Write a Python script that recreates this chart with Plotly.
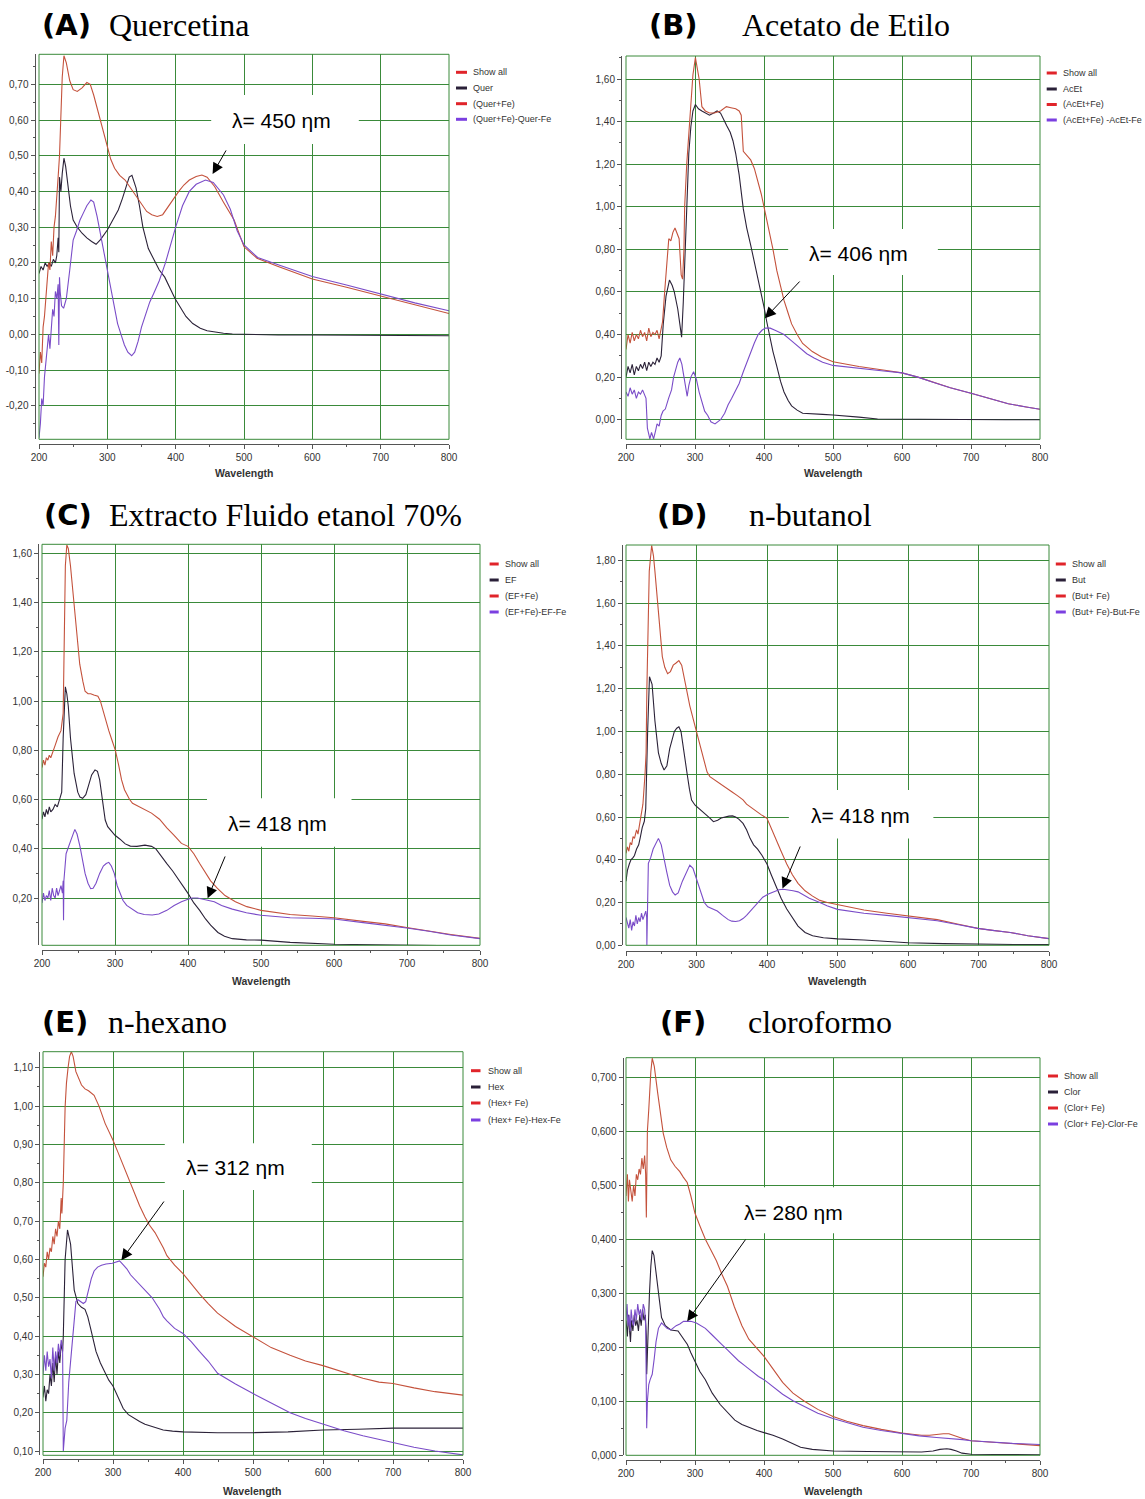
import plotly.graph_objects as go

W, H = 1145, 1499

# ---------------- Panel A : Quercetina ----------------
A_black_wl = [200,203,206,209,212,215,218,221,224,226,228,229,230,232,234,236.5,239,242,246,250,256,263,270,277,283.5,290,300,308,316,322,328,332,336,342,347,352,360,368,376,384,392,399,407,415,425,436,446,457,470,483,500,550,600,650,700,750,800]
A_black = [0.17,0.19,0.18,0.20,0.19,0.20,0.19,0.21,0.20,0.22,0.27,0.23,0.44,0.40,0.45,0.493,0.47,0.42,0.36,0.32,0.30,0.283,0.27,0.26,0.252,0.265,0.292,0.32,0.348,0.38,0.42,0.44,0.445,0.41,0.36,0.30,0.24,0.208,0.18,0.16,0.13,0.10,0.075,0.05,0.03,0.017,0.01,0.006,0.003,0.001,0.0,-0.002,-0.002,-0.003,-0.003,-0.004,-0.004]
A_red_wl = [200,202,204,206,208,210,212,214,216,218,220,222,224,226,228,230,232,234,236.5,240,245,250,256,263,270,275,280,284.5,290,295,300,305,310.6,318,326,334,342,350,357.6,365,373,381,389,397,404.5,412,420,430,438.4,446,457,470,485.5,500,519,550,600,650,700,750,800]
A_red = [-0.11,-0.05,-0.08,0.02,0.05,0.10,0.14,0.20,0.18,0.26,0.22,0.30,0.33,0.40,0.44,0.50,0.62,0.72,0.78,0.76,0.71,0.685,0.68,0.69,0.705,0.70,0.67,0.638,0.60,0.56,0.526,0.49,0.465,0.445,0.432,0.41,0.386,0.365,0.344,0.335,0.33,0.335,0.358,0.38,0.40,0.418,0.432,0.442,0.446,0.44,0.414,0.37,0.32,0.245,0.213,0.19,0.155,0.132,0.108,0.083,0.058]
A_purple_wl = [200,202,204,206,208,210,212,214,216,218,220,222,224,226,228,229,230,231,233,236,240,245,250,255,260,265,270,276,280,285,290,295,300,305,310,315,320,325,330,335.6,340,345,350,355,362,368,376,385,392,400,410,420,430,443.6,455,470,480,490,500,520,550,600,650,700,750,800]
A_purple = [-0.29,-0.25,-0.18,-0.20,-0.12,-0.08,-0.05,0.0,-0.04,0.01,0.07,0.05,0.12,0.10,0.14,-0.03,0.16,0.12,0.08,0.073,0.10,0.18,0.264,0.29,0.32,0.34,0.36,0.376,0.37,0.33,0.28,0.24,0.19,0.14,0.08,0.03,0.0,-0.03,-0.05,-0.06,-0.05,-0.02,0.02,0.05,0.09,0.115,0.15,0.20,0.25,0.30,0.36,0.40,0.42,0.432,0.425,0.39,0.35,0.29,0.25,0.215,0.195,0.162,0.138,0.112,0.088,0.066]
A_legend = ["Show all", "Quer", "(Quer+Fe)", "(Quer+Fe)-Quer-Fe"]
A_yticks = [-0.2,-0.1,0.0,0.1,0.2,0.3,0.4,0.5,0.6,0.7]
A_ylabels = ["-0,20","-0,10","0,00","0,10","0,20","0,30","0,40","0,50","0,60","0,70"]
A_yminor = [-0.25,-0.15,-0.05,0.05,0.15,0.25,0.35,0.45,0.55,0.65,0.75]

# ---------------- Panel B : Acetato de Etilo ----------------
B_black_wl = [200,203,206,209,212,215,218,221,224,227,230,233,236,239,242,245,248,251,254,258,263,267,270,275,278,280.6,283,286,288.7,291,294,297,300.6,305,310,315,321,327,332,337,341,346,351,355,359,364,370,375,380.7,386,391.5,396,400,404,407.7,413,418.6,424,429,435,440,448,456,470,485,500,520,537.6,564.6,600,650,700,750,800]
B_black = [0.20,0.25,0.22,0.26,0.21,0.25,0.23,0.26,0.24,0.27,0.23,0.27,0.25,0.27,0.26,0.29,0.27,0.30,0.45,0.58,0.656,0.63,0.60,0.52,0.45,0.387,0.55,0.85,1.10,1.25,1.376,1.45,1.48,1.46,1.45,1.44,1.43,1.44,1.45,1.44,1.41,1.38,1.35,1.31,1.25,1.15,0.99,0.90,0.82,0.74,0.67,0.60,0.53,0.46,0.40,0.32,0.25,0.18,0.13,0.09,0.065,0.045,0.03,0.026,0.025,0.022,0.015,0.012,0.003,0.002,0.001,0.001,0.0,0.0]
B_red_wl = [200,203,206,209,212,215,218,221,224,227,230,233,236,239,242,245,248,251,253,256,259,262,265,268,271,274,277,280,282,284,285,288,291,294,297,300.6,303,306,310,315,321,328,337,345.5,352,359,364,367,370,375,380.7,386,391.5,396,400,404,407.7,413,418.6,424,429,435,440,448,456,470,483.5,500,520,537.6,570,600,623,646,670,700,730,754,780,800]
B_red = [0.33,0.40,0.36,0.41,0.37,0.40,0.38,0.42,0.39,0.41,0.37,0.43,0.39,0.41,0.40,0.42,0.38,0.42,0.46,0.60,0.72,0.85,0.84,0.88,0.90,0.87,0.85,0.68,0.66,0.80,1.0,1.2,1.35,1.5,1.62,1.70,1.66,1.60,1.47,1.45,1.44,1.44,1.45,1.47,1.465,1.46,1.45,1.43,1.26,1.24,1.22,1.18,1.118,1.06,1.0,0.94,0.88,0.80,0.70,0.62,0.56,0.50,0.45,0.40,0.358,0.32,0.295,0.272,0.26,0.25,0.235,0.22,0.20,0.175,0.15,0.124,0.098,0.075,0.06,0.049]
B_purple_wl = [200,203,206,209,212,215,218,221,224,227,229,231,234.6,237,240,243,245,248,251,253.6,257,261.7,266,269,272.5,275,278,281,283,286,288.7,291,294,298,302,306,310,314,318.5,323,329,337,343,348,353,359,364,370,375,380.7,386,391.5,397,402,409,416,423,429,440,451,462,472.6,485,500,520,537.6,570,600,623,646,670,700,730,754,780,800]
B_purple = [0.13,0.11,0.15,0.12,0.14,0.10,0.13,0.12,0.14,0.11,0.10,-0.04,-0.09,-0.06,-0.09,-0.05,-0.02,-0.03,0.02,0.04,0.05,0.10,0.14,0.20,0.25,0.27,0.29,0.26,0.22,0.15,0.11,0.16,0.20,0.225,0.19,0.13,0.08,0.04,0.02,-0.01,-0.02,0.0,0.03,0.07,0.10,0.14,0.17,0.225,0.27,0.32,0.36,0.40,0.42,0.43,0.43,0.42,0.41,0.40,0.37,0.34,0.31,0.29,0.27,0.255,0.247,0.24,0.23,0.22,0.20,0.175,0.15,0.124,0.098,0.075,0.06,0.049]
B_legend = ["Show all", "AcEt", "(AcEt+Fe)", "(AcEt+Fe) -AcEt-Fe"]
B_yticks = [0.0,0.2,0.4,0.6,0.8,1.0,1.2,1.4,1.6]
B_ylabels = ["0,00","0,20","0,40","0,60","0,80","1,00","1,20","1,40","1,60"]
B_yminor = [0.1,0.3,0.5,0.7,0.9,1.1,1.3,1.5,1.7]

# ---------------- Panel C : Extracto Fluido etanol 70% ----------------
C_black_wl = [200,202,204,206,208,210,212,215,218,221,224,227,229,231,232,234,236,239,241.5,244,249,252,255.7,260,264,268,272.6,276,279,283,286.6,290,294,300,306.5,314,321,330,341,350,356,363,371,379,386,393,400,408,416,424,431,441,450,460.7,480,500,540,600,650,690,750,800]
C_black = [0.52,0.55,0.53,0.56,0.54,0.57,0.55,0.56,0.58,0.57,0.60,0.63,0.85,1.00,1.058,1.03,0.98,0.85,0.76,0.706,0.63,0.61,0.605,0.62,0.66,0.70,0.72,0.715,0.68,0.60,0.517,0.49,0.476,0.455,0.44,0.42,0.411,0.41,0.415,0.41,0.40,0.37,0.34,0.31,0.28,0.25,0.219,0.18,0.15,0.115,0.09,0.06,0.045,0.035,0.03,0.029,0.02,0.012,0.01,0.008,0.006,0.005]
C_red_wl = [200,202,204,206,208,210,212,215,218,222,226,229,231,232,234,236,239,242,246.8,251.7,256,259,263,266.7,271,276.6,280,284,288,291.5,296,300.5,305,309,313,316,320,324,330,341,350,361,366,371,381,391,400,408,416,424,431,440,450.7,465,480.6,500,520,540,570,600,640,670,699.5,730,760,800]
C_red = [0.73,0.76,0.74,0.77,0.76,0.78,0.77,0.80,0.82,0.855,0.88,0.95,1.30,1.55,1.634,1.62,1.55,1.45,1.30,1.15,1.08,1.04,1.03,1.03,1.025,1.02,1.00,0.957,0.92,0.88,0.84,0.80,0.74,0.68,0.64,0.62,0.60,0.585,0.575,0.56,0.545,0.52,0.50,0.485,0.455,0.422,0.41,0.38,0.34,0.30,0.27,0.24,0.21,0.185,0.165,0.15,0.14,0.133,0.127,0.12,0.105,0.095,0.08,0.065,0.052,0.036]
C_purple_wl = [200,202,204,206,208,210,212,214,216,218,220,222,224,226,228,229,229.5,230,233,236,239,245,248,252,255,259,263,266.7,270,274,279,284,288,291.5,295,299,303,306.5,311,316,323,331,340,351,360,371,381,391,400,406,413,421,428,436,446,460.7,480,500,520,540,570,600,640,670,699.5,730,760,800]
C_purple = [0.18,0.22,0.19,0.21,0.20,0.23,0.19,0.24,0.21,0.20,0.24,0.21,0.23,0.25,0.22,0.27,0.11,0.27,0.38,0.41,0.43,0.479,0.46,0.41,0.36,0.30,0.26,0.238,0.24,0.26,0.30,0.33,0.34,0.345,0.33,0.30,0.25,0.22,0.19,0.17,0.155,0.14,0.133,0.131,0.135,0.15,0.17,0.185,0.195,0.20,0.20,0.195,0.19,0.185,0.17,0.155,0.14,0.13,0.125,0.12,0.118,0.115,0.10,0.09,0.078,0.065,0.05,0.035]
C_legend = ["Show all", "EF", "(EF+Fe)", "(EF+Fe)-EF-Fe"]
C_yticks = [0.2,0.4,0.6,0.8,1.0,1.2,1.4,1.6]
C_ylabels = ["0,20","0,40","0,60","0,80","1,00","1,20","1,40","1,60"]
C_yminor = [0.1,0.3,0.5,0.7,0.9,1.1,1.3,1.5]

# ---------------- Panel D : n-butanol ----------------
D_black_wl = [200,202,204.7,207,210,212,215,218,220,223,226,228,230.7,233.3,237,241,246,250,254,258,262,265,268.6,272,275,278,280,283,286.8,290,293,298,303.5,309,314,319,324,330,335,340,346,351,355.5,360,366,371,376,381,386.7,393,400,406,412.7,420,428,436,444,454,464.7,480,500,537.5,570,600,650,699,750,800]
D_black = [0.30,0.35,0.38,0.40,0.41,0.42,0.45,0.47,0.50,0.55,0.58,0.64,1.00,1.256,1.22,1.05,0.90,0.85,0.82,0.84,0.92,0.96,1.00,1.015,1.022,1.00,0.95,0.88,0.80,0.73,0.679,0.655,0.64,0.625,0.61,0.595,0.578,0.585,0.595,0.60,0.604,0.605,0.60,0.59,0.57,0.54,0.50,0.47,0.45,0.42,0.38,0.33,0.28,0.22,0.17,0.13,0.09,0.06,0.045,0.035,0.03,0.025,0.018,0.012,0.008,0.005,0.004,0.003]
D_red_wl = [200,202,204,206,208,210,212,215,217,220,222,224,227,228.5,229.6,231,233,236.4,239,241,243.5,246,249,251.5,255,259,263,267,271,275,279,282.7,286,290.5,296,301,306,311,315,319,327,334.7,342,350,358,366,371,377,384,392,400,406,412.7,420,428,436,444,454,464.7,475,485.5,500,520,537.5,570,600,620,641.5,670,699,720,745,770,800]
D_red = [0.43,0.46,0.44,0.48,0.47,0.508,0.50,0.54,0.52,0.58,0.617,0.66,0.80,0.90,1.20,1.40,1.75,1.87,1.82,1.75,1.65,1.55,1.45,1.35,1.30,1.27,1.28,1.31,1.32,1.331,1.31,1.25,1.19,1.12,1.05,0.99,0.92,0.86,0.81,0.789,0.77,0.75,0.735,0.718,0.70,0.68,0.66,0.645,0.63,0.61,0.594,0.55,0.50,0.44,0.38,0.33,0.29,0.255,0.23,0.21,0.20,0.19,0.175,0.165,0.15,0.137,0.13,0.12,0.10,0.079,0.07,0.06,0.045,0.031]
D_purple_wl = [200,202,204,206,208,210,212,214,216,218,220,222,224,226,228,229.3,229.6,231.7,235,238.5,242,246,250,254,258,262,266,269.7,274,280,285,290.5,295,301,306,311,316,322,329.5,337,345,350,355.5,361,366,371,378,386.7,394,402,410,417,423,430,437,444,452,460,475,485,500,520,537.5,570,600,620,641.5,670,699,720,745,770,800]
D_purple = [0.13,0.10,0.08,0.12,0.07,0.11,0.09,0.14,0.10,0.13,0.11,0.15,0.12,0.14,0.16,0.13,0.0,0.383,0.41,0.45,0.475,0.50,0.47,0.40,0.34,0.28,0.25,0.235,0.245,0.30,0.34,0.375,0.36,0.30,0.24,0.20,0.18,0.17,0.16,0.14,0.12,0.113,0.111,0.115,0.125,0.14,0.165,0.20,0.225,0.24,0.252,0.26,0.262,0.26,0.255,0.25,0.235,0.22,0.20,0.185,0.168,0.158,0.15,0.14,0.13,0.125,0.115,0.097,0.079,0.07,0.06,0.045,0.031]
D_legend = ["Show all", "But", "(But+ Fe)", "(But+ Fe)-But-Fe"]
D_yticks = [0.0,0.2,0.4,0.6,0.8,1.0,1.2,1.4,1.6,1.8]
D_ylabels = ["0,00","0,20","0,40","0,60","0,80","1,00","1,20","1,40","1,60","1,80"]
D_yminor = [0.1,0.3,0.5,0.7,0.9,1.1,1.3,1.5,1.7]

# ---------------- Panel E : n-hexano ----------------
E_black_wl = [200,202,204,206,208,210,212,214,216,218,220,222,224,226,228,229,231.6,235,239.4,242,244.6,249.8,255,260,264,268,272,275.7,282,288.7,294,300,307,314.6,322,330,338,345.7,360,371.7,385,400,449,500,550,600,650,700,750,800]
E_black = [0.24,0.27,0.23,0.26,0.25,0.30,0.27,0.33,0.28,0.35,0.30,0.36,0.33,0.38,0.36,0.40,0.60,0.677,0.64,0.57,0.52,0.485,0.475,0.47,0.45,0.42,0.39,0.36,0.33,0.303,0.285,0.27,0.24,0.211,0.195,0.185,0.177,0.17,0.162,0.155,0.152,0.15,0.148,0.148,0.15,0.155,0.157,0.16,0.16,0.16]
E_red_wl = [200,202,204,206,208,210,212,214,216,218,220,222,224,226,227,229,231.6,233.5,235.8,238,240.5,243,247,251,255,260,265,273,280,288.7,294,300,307,314.6,322,330,338,345.7,352,360,366.5,372,377,388,400,412,423.5,436,449.4,475,500,526,553,575,600,630,657,680,700,730,760,800]
E_red = [0.555,0.59,0.58,0.62,0.60,0.63,0.62,0.66,0.64,0.68,0.66,0.70,0.68,0.76,0.72,0.80,0.998,1.06,1.10,1.13,1.142,1.13,1.09,1.07,1.055,1.045,1.04,1.028,1.0,0.955,0.935,0.911,0.88,0.846,0.81,0.775,0.74,0.711,0.69,0.67,0.65,0.63,0.61,0.585,0.563,0.535,0.51,0.485,0.46,0.425,0.398,0.37,0.35,0.335,0.323,0.305,0.29,0.28,0.2765,0.265,0.255,0.246]
E_purple_wl = [200,202,204,206,208,210,212,214,216,218,220,222,224,226,228,229,231.6,234,236.8,239,242,244.5,247,250,253,257.6,261,265,269,273,278,283.5,290,299,304,309.4,315,320,325,335,345.7,356,366.5,372,377,388,400,412,423.5,436,449.4,475,500,526,553,575,600,630,657,680,700,730,760,800]
E_purple = [0.30,0.35,0.31,0.36,0.32,0.34,0.29,0.37,0.31,0.36,0.33,0.38,0.35,0.39,0.37,0.10,0.16,0.18,0.28,0.33,0.38,0.44,0.49,0.495,0.49,0.485,0.49,0.52,0.55,0.57,0.58,0.585,0.588,0.59,0.593,0.596,0.585,0.575,0.56,0.54,0.52,0.50,0.47,0.45,0.44,0.42,0.407,0.385,0.36,0.335,0.303,0.275,0.25,0.225,0.20,0.185,0.17,0.153,0.14,0.13,0.122,0.11,0.10,0.09]
E_legend = ["Show all", "Hex", "(Hex+ Fe)", "(Hex+ Fe)-Hex-Fe"]
E_yticks = [0.1,0.2,0.3,0.4,0.5,0.6,0.7,0.8,0.9,1.0,1.1]
E_ylabels = ["0,10","0,20","0,30","0,40","0,50","0,60","0,70","0,80","0,90","1,00","1,10"]
E_yminor = [0.15,0.25,0.35,0.45,0.55,0.65,0.75,0.85,0.95,1.05]

# ---------------- Panel F : cloroformo ----------------
F_black_wl = [200,202,203.5,205,206.5,208,210,212,214,216,218,220,222,224,226,228,229.5,230,232,234,236,238,240.5,243.5,247,251.5,257,265,275.4,283.4,289,294,300,307,315,325,336.5,347,357.7,368,379,390,400,413,427,440,453,470,485,500,550,600,628.5,645,655,665,671,679,687,700,750,800]
F_black = [0.25,0.22,0.26,0.23,0.21,0.25,0.23,0.26,0.24,0.25,0.23,0.26,0.24,0.27,0.25,0.26,0.22,0.15,0.25,0.30,0.35,0.379,0.37,0.34,0.30,0.255,0.24,0.232,0.23,0.215,0.205,0.19,0.174,0.155,0.14,0.115,0.094,0.08,0.065,0.057,0.051,0.046,0.042,0.037,0.03,0.022,0.015,0.011,0.009,0.008,0.007,0.006,0.006,0.008,0.011,0.012,0.011,0.008,0.004,0.002,0.001,0.001]
F_red_wl = [200,202,203.5,205,207,209,211,213,215,217,219,221,223,225,227,228.5,229.5,231,233,234.5,236,238,241,246,250,254,259,264.8,271,278,283,288.7,294,300,307,315,323,331,339,347,357,368,378,389,400,413,427,442,458.6,478,500,520,543.5,570,600,615,628.5,640,650,660,668,676,688,700,720,740,756,780,800]
F_red = [0.48,0.52,0.47,0.51,0.49,0.47,0.50,0.48,0.52,0.51,0.53,0.52,0.55,0.53,0.555,0.52,0.44,0.60,0.64,0.68,0.71,0.735,0.72,0.67,0.63,0.596,0.57,0.547,0.535,0.525,0.515,0.505,0.48,0.448,0.425,0.40,0.38,0.36,0.335,0.313,0.275,0.24,0.215,0.198,0.183,0.16,0.135,0.115,0.10,0.085,0.072,0.063,0.055,0.048,0.041,0.039,0.037,0.037,0.039,0.04,0.04,0.036,0.031,0.027,0.025,0.023,0.022,0.02,0.018]
F_purple_wl = [200,201.5,203,204.5,206,207.5,209,211,213,215,217,219,221,223,225,227,228.5,230,231,233,235,238,241,243.5,247,251.5,255.5,259.5,265,272.7,278,283.4,289,294,302,308,315,323,331,339,347,355,363,373,384,392,400,413,427,442,458.6,478,500,520,543.5,570,600,625,650,660,668,676,688,700,730,760,800]
F_purple = [0.25,0.28,0.24,0.26,0.23,0.27,0.25,0.24,0.27,0.25,0.28,0.26,0.27,0.25,0.28,0.27,0.24,0.05,0.10,0.131,0.14,0.15,0.18,0.21,0.235,0.245,0.24,0.235,0.232,0.24,0.243,0.248,0.248,0.248,0.245,0.24,0.235,0.225,0.214,0.205,0.195,0.185,0.175,0.165,0.153,0.146,0.14,0.127,0.113,0.101,0.09,0.078,0.068,0.06,0.052,0.046,0.04,0.036,0.033,0.032,0.032,0.031,0.029,0.027,0.024,0.022,0.02]
F_legend = ["Show all", "Clor", "(Clor+ Fe)", "(Clor+ Fe)-Clor-Fe"]
F_yticks = [0.0,0.1,0.2,0.3,0.4,0.5,0.6,0.7]
F_ylabels = ["0,000","0,100","0,200","0,300","0,400","0,500","0,600","0,700"]
F_yminor = [0.05,0.15,0.25,0.35,0.45,0.55,0.65]

# shared x axis ticks
x_ticks = [200,300,400,500,600,700,800]
x_labels = ["200","300","400","500","600","700","800"]
x_minor = [250,350,450,550,650,750]

# annotation labels
peak_labels = ["λ= 450 ηm","λ= 406 ηm","λ= 418 ηm","λ= 418 ηm","λ= 312 ηm","λ= 280 ηm"]
tags = ["(A)","(B)","(C)","(D)","(E)","(F)"]
names = ["Quercetina","Acetato de Etilo","Extracto Fluido etanol 70%","n-butanol","n-hexano","cloroformo"]

# ---------------- styling / layout ----------------
RED = "#c4523c"
BLACK = "#2b2238"
PURPLE = "#7a4cc8"
LEG_RED = "#e0242a"
LEG_BLACK = "#2a2038"
LEG_PURPLE = "#7b3fe0"
GRID = "#3a8a3a"
AXC = "#555555"
SANS = "Liberation Sans, Arial, sans-serif"
SERIF = "Liberation Serif, Times New Roman, serif"

panels = [
    dict(bl=(A_black_wl, A_black), rd=(A_red_wl, A_red), pu=(A_purple_wl, A_purple), leg=A_legend,
         yt=A_yticks, yl=A_ylabels, ym=A_yminor,
         fx=(39, 449), fy=(54.3, 439.3), yline=34.5, xline=444, yr=[-0.294, 0.784],
         box=(452, 668, 0.533, 0.67), txt=(555, 0.60), arr=(475, 0.519, 454, 0.449),
         legx=(456, 467, 471), legy=(72.3, 88, 103.7, 119.3),
         tag=(40, 25), name=(107, 25), wl_y=473),
    dict(bl=(B_black_wl, B_black), rd=(B_red_wl, B_red), pu=(B_purple_wl, B_purple), leg=B_legend,
         yt=B_yticks, yl=B_ylabels, ym=B_yminor,
         fx=(626, 1040), fy=(56, 439.3), yline=621, xline=444, yr=[-0.092, 1.708],
         box=(435, 652, 0.68, 0.895), txt=(537.6, 0.781), arr=(453.7, 0.656, 401.3, 0.476),
         legx=(1046.7, 1056.8, 1061), legy=(73, 89, 104.5, 120),
         tag=(647, 25), name=(740, 25), wl_y=473),
    dict(bl=(C_black_wl, C_black), rd=(C_red_wl, C_red), pu=(C_purple_wl, C_purple), leg=C_legend,
         yt=C_yticks, yl=C_ylabels, ym=C_yminor,
         fx=(42, 480), fy=(544.3, 945.3), yline=38, xline=950, yr=[0.008, 1.637],
         box=(426, 624, 0.408, 0.605), txt=(523, 0.503), arr=(451.7, 0.375, 426.9, 0.199),
         legx=(489.6, 498.7, 503), legy=(564, 580, 596, 612),
         tag=(42, 515), name=(106.5, 515), wl_y=981),
    dict(bl=(D_black_wl, D_black), rd=(D_red_wl, D_red), pu=(D_purple_wl, D_purple), leg=D_legend,
         yt=D_yticks, yl=D_ylabels, ym=D_yminor,
         fx=(626, 1049), fy=(545, 945.3), yline=621.5, xline=951, yr=[0.0, 1.872],
         box=(431, 636, 0.50, 0.726), txt=(532.3, 0.609), arr=(448, 0.469, 422, 0.266),
         legx=(1055.8, 1065.8, 1070), legy=(564, 580, 596, 612),
         tag=(655, 515), name=(747, 515), wl_y=981),
    dict(bl=(E_black_wl, E_black), rd=(E_red_wl, E_red), pu=(E_purple_wl, E_purple), leg=E_legend,
         yt=E_yticks, yl=E_ylabels, ym=E_yminor,
         fx=(43, 463), fy=(1051.7, 1455.3), yline=39, xline=1459, yr=[0.089, 1.142],
         box=(374, 584, 0.781, 0.903), txt=(474.3, 0.839), arr=(374.3, 0.755, 312, 0.598),
         legx=(471, 480.5, 486), legy=(1070.7, 1087, 1103, 1120),
         tag=(40, 1022), name=(106, 1022), wl_y=1491),
    dict(bl=(F_black_wl, F_black), rd=(F_red_wl, F_red), pu=(F_purple_wl, F_purple), leg=F_legend,
         yt=F_yticks, yl=F_ylabels, ym=F_yminor,
         fx=(626, 1040), fy=(1057.7, 1455.3), yline=622.5, xline=1460, yr=[0.0, 0.736],
         box=(339, 599, 0.411, 0.496), txt=(442.7, 0.45), arr=(374.7, 0.402, 288.7, 0.248),
         legx=(1048, 1058, 1062), legy=(1076, 1092, 1108, 1124),
         tag=(658, 1022), name=(746, 1022), wl_y=1491),
]

fig = go.Figure()
shapes = []
annotations = []
layout_axes = {}

def px(v):
    return v / W

def py(v):
    return 1 - v / H

for i, p in enumerate(panels):
    n = i + 1
    sfx = "" if n == 1 else str(n)
    xa, ya = "x" + sfx, "y" + sfx
    for (wl, vals), col in ((p["bl"], BLACK), (p["rd"], RED), (p["pu"], PURPLE)):
        fig.add_trace(go.Scatter(x=wl, y=vals, mode="lines", xaxis=xa, yaxis=ya,
                                 line=dict(color=col, width=1.1), hoverinfo="skip",
                                 showlegend=False))
    layout_axes["xaxis" + sfx] = dict(
        domain=[px(p["fx"][0]), px(p["fx"][1])], range=[200, 800], anchor="free",
        position=py(p["xline"]), showgrid=True, gridcolor=GRID, gridwidth=1,
        tickmode="array", tickvals=x_ticks, ticktext=x_labels, ticks="outside",
        ticklen=4, tickcolor=AXC, showline=True, linecolor=AXC, linewidth=1,
        zeroline=False, automargin=False,
        tickfont=dict(family=SANS, size=10, color="#333333"),
        minor=dict(tickmode="array", tickvals=x_minor, ticks="outside", ticklen=2,
                   tickcolor=AXC, showgrid=False),
        fixedrange=True)
    layout_axes["yaxis" + sfx] = dict(
        domain=[py(p["fy"][1]), py(p["fy"][0])], range=p["yr"], anchor="free",
        position=px(p["yline"]), showgrid=True, gridcolor=GRID, gridwidth=1,
        tickmode="array", tickvals=p["yt"], ticktext=p["yl"], ticks="outside",
        ticklen=4, tickcolor=AXC, showline=True, linecolor=AXC, linewidth=1,
        zeroline=False, automargin=False,
        tickfont=dict(family=SANS, size=10, color="#333333"),
        minor=dict(tickmode="array", tickvals=p["ym"], ticks="outside", ticklen=2,
                   tickcolor=AXC, showgrid=False),
        fixedrange=True)
    # green frame
    shapes.append(dict(type="rect", xref=xa + " domain", yref=ya + " domain",
                       x0=0, x1=1, y0=0, y1=1, line=dict(color=GRID, width=1),
                       layer="above"))
    # white label box
    bx0, bx1, by0, by1 = p["box"]
    shapes.append(dict(type="rect", xref=xa, yref=ya, x0=bx0, x1=bx1, y0=by0, y1=by1,
                       fillcolor="white", line=dict(width=0), layer="between"))
    annotations.append(dict(x=p["txt"][0], y=p["txt"][1], xref=xa, yref=ya,
                            text=peak_labels[i], showarrow=False,
                            font=dict(family=SANS, size=21, color="black")))
    tx, ty, hx, hy = p["arr"]
    annotations.append(dict(x=hx, y=hy, ax=tx, ay=ty, xref=xa, yref=ya, axref=xa, ayref=ya,
                            text="", showarrow=True, arrowhead=2, arrowsize=2.2,
                            arrowwidth=1, arrowcolor="black", standoff=0, startstandoff=0))
    # legend
    lcols = [LEG_RED, LEG_BLACK, LEG_RED, LEG_PURPLE]
    for k, lab in enumerate(p["leg"]):
        yy = py(p["legy"][k])
        shapes.append(dict(type="line", xref="paper", yref="paper",
                           x0=px(p["legx"][0]), x1=px(p["legx"][1]), y0=yy, y1=yy,
                           line=dict(color=lcols[k], width=3)))
        annotations.append(dict(x=px(p["legx"][2]), y=yy, xref="paper", yref="paper",
                                text=lab, showarrow=False, xanchor="left", yanchor="middle",
                                font=dict(family=SANS, size=9, color="#333333")))
    # axis title
    annotations.append(dict(x=0.5, y=py(p["wl_y"]), xref=xa + " domain", yref="paper",
                            text="<b>Wavelength</b>", showarrow=False, yanchor="middle",
                            font=dict(family=SANS, size=10.5, color="#333333")))
    # panel titles
    annotations.append(dict(x=px(p["tag"][0]), y=py(p["tag"][1]), xref="paper", yref="paper",
                            text="<b>" + tags[i] + "</b>", showarrow=False,
                            xanchor="left", yanchor="middle",
                            font=dict(family="DejaVu Sans, sans-serif", size=29, color="black")))
    annotations.append(dict(x=px(p["name"][0]), y=py(p["name"][1]), xref="paper", yref="paper",
                            text=names[i], showarrow=False, xanchor="left", yanchor="middle",
                            font=dict(family=SERIF, size=32, color="black")))

fig.update_layout(width=W, height=H, autosize=False,
                  margin=dict(l=0, r=0, t=0, b=0, autoexpand=False),
                  paper_bgcolor="white", plot_bgcolor="white",
                  showlegend=False, shapes=shapes, annotations=annotations,
                  **layout_axes)

fig.write_html("out.html", config={"displayModeBar": False})
